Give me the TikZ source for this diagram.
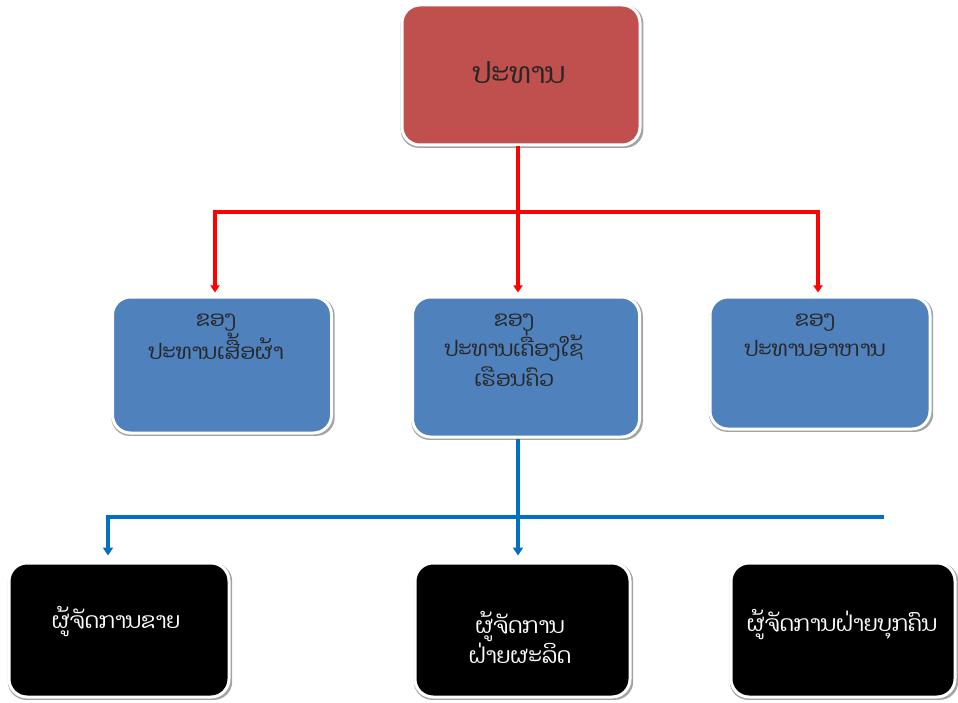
\documentclass[tikz,border=0pt]{standalone}
\usepackage{fontspec}
\newfontfamily\laofont[Script=Lao]{Dhyana}
\usetikzlibrary{arrows.meta,shadows}
\definecolor{topred}{HTML}{C0504D}
\definecolor{midblue}{HTML}{4F81BD}
\definecolor{linered}{HTML}{FF0000}
\definecolor{lineblue}{HTML}{0070C0}
\tikzset{
  box/.style={draw=white, line width=3pt, rounded corners=18pt, inner sep=0pt,
    drop shadow={shadow xshift=1pt, shadow yshift=-1.5pt, shadow scale=1.02, fill=black!45, opacity=0.8}},
  topbox/.style={box, fill=topred, minimum width=238pt, minimum height=140pt},
  midbox/.style={box, fill=midblue},
  botbox/.style={box, fill=black, minimum width=218pt, minimum height=134pt},
  toptext/.style={font=\laofont\fontsize{29}{32}\selectfont, text=black!85},
  midtext/.style={font=\laofont\fontsize{21.5}{30}\selectfont, text=black!85, align=center, anchor=north, inner sep=0pt},
  bottext/.style={font=\laofont\fontsize{22}{30}\selectfont, text=white, align=center, anchor=north, inner sep=0pt},
  redline/.style={draw=linered, line width=3.2pt},
  redarrow/.style={redline, -{Triangle[width=9pt,length=7pt]}, shorten >=3pt},
  blueline/.style={draw=lineblue, line width=3.4pt},
  bluearrow/.style={blueline, -{Triangle[width=10pt,length=8pt]}, shorten >=6pt}
}
\begin{document}
\begin{tikzpicture}[x=1pt,y=-1pt]
\path[use as bounding box] (0,0) rectangle (958,703);

% boxes
\node[topbox] (top) at (521,75) {};
\node[midbox, minimum width=219pt, minimum height=136pt] (m1) at (222,365) {};
\node[midbox, minimum width=227pt, minimum height=140pt] (m2) at (526,367) {};
\node[midbox, minimum width=220pt, minimum height=132pt] (m3) at (820,363) {};
\node[botbox, minimum width=220pt] (b1) at (119,630) {};
\node[botbox, minimum width=215pt] (b2) at (522.5,630) {};
\node[botbox, minimum width=224pt] (b3) at (843,630) {};

% texts
\node[toptext] (t0) at (519,73) {ປະທານ};
\node[midtext] (t1) at (216,314) {ຂອງ\\ປະທານເສື້ອຜ້າ};
\node[midtext] (t2) at (514,314) {ຂອງ\\ປະທານເຄື່ອງໃຊ້\\ເຮືອນຄົວ};
\node[midtext] (t3) at (815,314) {ຂອງ\\ປະທານອາຫານ};
\node[bottext] (u1) at (116,606) {ຜູ້ຈັດການຂາຍ};
\node[bottext] (u2) at (520,611) {ຜູ້ຈັດການ\\ຝ່າຍຜະລິດ};
\node[bottext] (u3) at (842,609) {ຜູ້ຈັດການຝ່າຍບຸກຄົນ};

% red connectors
\coordinate (rs) at (518,212);
\coordinate (ra) at (215,212);
\coordinate (rb) at (818,212);
\draw[redline] (top.south -| rs) -- (rs);
\draw[redline, line cap=rect] (ra) -- (rb);
\draw[redarrow] (ra) -- (ra |- m1.north);
\draw[redarrow] (rs) -- (rs |- m2.north);
\draw[redarrow] (rb) -- (rb |- m3.north);

% blue connectors
\coordinate (bs) at (518,517);
\coordinate (ba) at (108,517);
\coordinate (bb) at (882,517);
\draw[blueline] (m2.south -| bs) -- (bs);
\draw[blueline, line cap=rect] (ba) -- (bb);
\draw[bluearrow] (ba) -- (ba |- b1.north);
\draw[bluearrow] (bs) -- (bs |- b2.north);
\end{tikzpicture}
\end{document}
